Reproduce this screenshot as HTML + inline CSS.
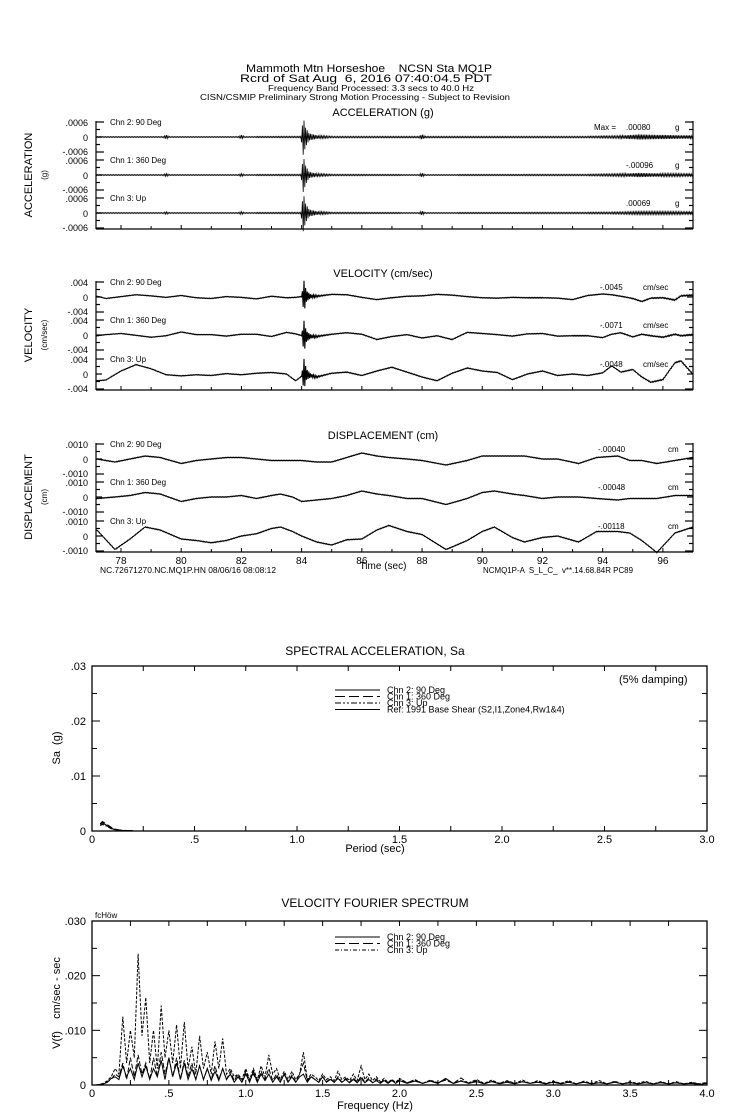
<!DOCTYPE html>
<html><head><meta charset="utf-8"><title>MQ1P strong motion record</title>
<style>
html,body{margin:0;padding:0;background:#fff;}
svg{display:block;font-family:"Liberation Sans",sans-serif;}
text{fill:#000;white-space:pre;}
</style></head>
<body>
<svg id="chart" width="739" height="1115" viewBox="0 0 739 1115" xmlns="http://www.w3.org/2000/svg" xml:space="preserve">
<rect width="739" height="1115" fill="#fff"/>
<g text-anchor="middle">
<text x="369" y="72" font-size="11" textLength="246" lengthAdjust="spacingAndGlyphs">Mammoth Mtn Horseshoe    NCSN Sta MQ1P</text>
<text x="366" y="82" font-size="11" textLength="252" lengthAdjust="spacingAndGlyphs">Rcrd of Sat Aug  6, 2016 07:40:04.5 PDT</text>
<text x="371" y="91" font-size="8" textLength="206" lengthAdjust="spacingAndGlyphs">Frequency Band Processed: 3.3 secs to 40.0 Hz</text>
<text x="355" y="100" font-size="8" textLength="310" lengthAdjust="spacingAndGlyphs">CISN/CSMIP Preliminary Strong Motion Processing - Subject to Revision</text>
</g>
<g id="ts"></g>
<g id="sa"></g>
<g id="ff"></g>
</svg>
<script>
// ---------- time-history data ----------
const channelNames = ["Chn 2: 90 Deg", "Chn 1: 360 Deg", "Chn 3: Up"];
const accPeaks = [".00080", "-.00096", ".00069"];
const velPeaks = ["-.0045", "-.0071", "-.0048"];
const dispPeaks = ["-.00040", "-.00048", "-.00118"];
const timeTicks = [78, 80, 82, 84, 86, 88, 90, 92, 94, 96];

// acceleration envelope (g) per channel
const accEnvT = [77.2, 79.4, 79.5, 79.6, 81.9, 82.0, 82.1, 83.98, 84.06, 84.12, 84.25, 84.5, 85.0, 87.9, 88.0, 88.1, 93.5, 94.5, 95.2, 96.0, 97.0];
const accEnvCh2 = [0.00002, 0.00002, 0.00008, 0.00002, 0.00002, 0.00008, 0.00002, 0.00003, 0.00078, 0.0004, 0.00014, 0.00007, 0.00003, 0.00003, 0.0001, 0.00003, 0.00003, 0.00005, 0.0001, 0.00008, 0.00006];
const accEnvCh1 = [0.00002, 0.00002, 0.00006, 0.00002, 0.00002, 0.00006, 0.00002, 0.00003, 0.00075, 0.0004, 0.00012, 0.00006, 0.00003, 0.00002, 0.00008, 0.00002, 0.00003, 0.00005, 0.00008, 0.00006, 0.00005];
const accEnvCh3 = [0.00002, 0.00002, 0.00005, 0.00002, 0.00002, 0.00006, 0.00002, 0.00003, 0.0008, 0.0004, 0.00014, 0.00007, 0.00003, 0.00002, 0.00008, 0.00002, 0.00003, 0.00004, 0.00006, 0.00006, 0.00005];

// velocity (cm/sec)
const velT = [77.2, 77.5, 78.0, 78.5, 79.0, 79.5, 80.0, 80.5, 81.0, 81.5, 82.0, 82.5, 83.0, 83.5, 83.8, 84.1, 84.5, 85.0, 85.5, 86.0, 86.5, 87.0, 87.5, 88.0, 88.5, 89.0, 89.5, 90.0, 90.5, 91.0, 91.5, 92.0, 92.5, 93.0, 93.5, 94.0, 94.3, 94.6, 95.0, 95.3, 95.6, 96.0, 96.4, 96.6, 97.0];
const velCh2 = [0.0002, -0.0004, 0.0001, 0.0006, 0.0003, -0.0001, 0.0004, -0.0002, -0.0004, 0.0001, -0.0001, -0.0005, 0.0002, -0.0002, -0.0001, 0.0002, 0.0002, 0.0007, 0.0006, -0.0001, -0.0007, -0.0002, 0.0002, 0.0003, 0.0007, 0.0005, 0.0001, -0.0002, -0.0003, -0.0001, -0.0002, -0.0002, -0.0003, -0.0007, 0.0004, 0.0008, 0.0006, 0.0002, -0.0004, -0.0012, -0.0003, -0.0002, -0.0008, 0.0003, 0.0005];
const velCh1 = [-0.0002, 0.0001, 0.0004, -0.0001, -0.0006, -0.0002, 0.0008, 0.0001, 0.0001, -0.0003, 0.0002, 0.0002, -0.0004, 0.0007, 0.0003, -0.0004, -0.0004, 0.0002, 0.0006, 0.0002, -0.0012, -0.0004, 0.0001, -0.0008, -0.0002, -0.0012, 0.0007, 0.0004, 0.0001, -0.0003, 0.0003, 0.0004, -0.0003, -0.0002, -0.0002, -0.0007, 0.0002, 0.0006, -0.0005, 0.0002, -0.0002, -0.0006, 0.0002, -0.0002, 0.0001];
const velCh3 = [-0.0018, -0.0016, 0.0008, 0.0025, 0.0014, -0.0002, -0.0005, -0.0002, -0.0004, 0.0001, -0.0002, 0.0002, 0.0004, 0.0, -0.0018, 0.0, -0.0008, 0.0002, 0.0005, -0.0004, 0.0008, 0.0018, 0.0005, -0.0008, -0.0018, 0.0002, 0.0016, 0.0008, 0.0004, -0.0015, 0.0, 0.0008, -0.0004, 0.0, -0.0004, 0.0003, 0.0022, 0.0005, 0.0012, -0.0008, -0.0022, -0.0015, 0.003, 0.0035, -0.0001];
const velNoiseT = [77.2, 84.0, 84.08, 84.15, 84.3, 84.6, 85.0, 94.5, 97.0];
const velNoise = [0.00006, 0.00008, 0.0042, 0.0015, 0.0005, 0.00015, 0.00008, 0.00008, 0.00015];

// displacement (cm)
const dispT = [77.2, 77.8, 78.3, 78.8, 79.3, 80.0, 80.5, 81.0, 81.5, 82.0, 82.5, 83.0, 83.3, 83.7, 84.0, 84.5, 85.0, 85.5, 86.0, 86.5, 86.9, 87.5, 88.0, 88.8, 89.5, 90.0, 90.4, 91.0, 91.4, 92.0, 92.5, 93.2, 93.8, 94.5, 94.9, 95.3, 95.8, 96.4, 97.0];
const dispCh2 = [0.0, -0.0002, 0.0, 0.0002, 0.0001, -0.0003, -0.0001, 0.0, 0.0001, 0.0001, 0.0, -0.0001, -0.0001, -0.0001, -0.0001, -0.0002, -0.0002, 0.0001, 0.0004, 0.0002, 0.0001, 0.0, -0.0001, -0.0004, -0.0001, 0.0002, 0.0002, 0.0002, 0.0002, 0.0, 0.0, -0.0003, 0.0001, 0.0002, -0.0001, -0.0001, -0.0003, -0.0001, 0.0001];
const dispCh1 = [-0.0001, 0.0, 0.0001, 0.0003, 0.0002, -0.0003, -0.0001, 0.0, 0.0, 0.0001, -0.0001, 0.0001, 0.0002, 0.0, -0.0003, -0.0002, -0.0001, 0.0001, 0.0004, 0.0002, 0.0001, -0.0001, -0.0001, -0.0005, -0.0001, 0.0003, 0.0004, 0.0002, 0.0001, -0.0001, 0.0, 0.0, -0.0001, -0.0002, -0.0001, -0.0001, -0.0001, 0.0001, 0.0001];
const dispCh3 = [0.0004, -0.0009, -0.0002, 0.0006, 0.0004, -0.0002, -0.0003, -0.00045, -0.0003, 0.0, 0.00015, 0.0005, 0.0006, 0.0003, 0.0, -0.0004, -0.0006, -0.00025, -0.0002, 0.0004, 0.0007, 0.0003, 0.0001, -0.0009, -0.0003, 0.0003, 0.0006, -0.0001, -0.0004, -0.0001, 0.0, -0.0004, 0.0003, 0.0003, 0.0002, -0.0003, -0.0011, 0.0002, 0.0006];

// ---------- spectral acceleration data ----------
const saPeriods = [0.04, 0.05, 0.06, 0.08, 0.1, 0.12, 0.15, 0.2];
const saCh2 = [0.0012, 0.0015, 0.0013, 0.0008, 0.0004, 0.0002, 0.0001, 0.00005];
const saCh1 = [0.0013, 0.0017, 0.0015, 0.001, 0.0005, 0.00025, 0.0001, 0.00005];
const saCh3 = [0.001, 0.0012, 0.0011, 0.0007, 0.0003, 0.00015, 0.00008, 0.00004];
const saYTicks = [".03", ".02", ".01", "0"];
const saXTicks = ["0", ".5", "1.0", "1.5", "2.0", "2.5", "3.0"];

// ---------- velocity Fourier spectrum (units of 0.001 cm/sec-sec) ----------
const ffCh3 = [0,0,0.1,0.3,0.8,1.5,3,2,12.5,4,10,5,24,9,16,4,10,3,14.5,5,10,4,11,3,11.5,3,7,2,9,3,6,2,8,3,8.5,2,3,1.5,2,1,3,1,3,1,3.5,1.5,5.5,2,3,1,2.5,1,2.5,1,2,6,1,2,1.5,0.8,2,1,1.5,0.8,2.5,1,1.5,0.8,2,0.8,3.5,1,2,0.8,1.5,0.6,1.2,0.5,1,0.5,1.2,
 0.4,1.0,0.3,0.9,0.4,1.1,0.3,0.8,0.4,1.0,0.3,0.9,0.3,0.8,0.3,0.9,0.3,0.8,0.3,0.7,0.3,0.8,0.2,0.7,0.3,0.8,0.2,0.7,0.2,0.6,0.3,0.7,0.2,0.6,0.2,0.6,0.2,0.5,0.2,0.5];
const ffCh2 = [0,0,0.1,0.2,0.5,1.2,1.5,1,3.5,1.5,3,1,4,1.5,3.5,1,3,1.5,4.5,1,5,1.5,4,1,4,1,3,1,3.5,1,3,0.8,2.5,0.8,3,1,2,0.5,1.5,0.5,2,0.5,2.5,0.5,2,0.8,2,0.5,1.5,0.5,2,0.5,1.5,0.5,1.5,2,0.5,1.5,1,0.5,1.5,0.5,1,0.5,1.2,0.5,1,0.4,1,0.4,1.2,0.4,1,0.4,0.8,0.3,0.8,0.3,0.8,0.3,0.8,
 0.3,0.7,0.3,0.7,0.3,1.2,0.3,0.7,0.3,0.6,0.2,0.6,0.2,0.5,0.2,0.6,0.3,0.5,0.2,0.5,0.2,0.5,0.2,0.5,0.2,0.4,0.2,0.5,0.2,0.4,0.2,0.4,0.2,0.4,0.2,0.4,0.2,0.3,0.1,0.3];
const ffCh1 = [0,0,0.1,0.3,0.6,1,2,1.5,4,1,5,1.5,5.5,2,4,1,5,1.5,6,2,5,1.5,5,1,4.5,1.5,4,1,3.5,1,3,1,3.5,1,3,1,2.5,0.8,2,0.6,2.5,0.8,2,0.6,2.5,1,3,0.8,2,0.6,2,0.6,1.8,0.6,2,4,0.8,1.6,1,0.5,1.5,0.6,1.2,0.5,1.5,0.5,1.2,0.5,1.3,0.5,1.6,0.5,1.3,0.4,1.1,0.4,1,0.4,0.9,0.4,1,
 0.4,0.9,0.3,0.8,0.4,0.9,0.3,1.3,0.3,0.8,0.3,0.7,0.3,0.7,0.3,0.6,0.3,0.7,0.2,0.6,0.3,0.6,0.2,0.6,0.2,0.5,0.2,0.6,0.2,0.5,0.2,0.5,0.2,0.5,0.2,0.4,0.2,0.4,0.2,0.4];
const ffYTicks = [".030", ".020", ".010", "0"];
const ffXTicks = ["0", ".5", "1.0", "1.5", "2.0", "2.5", "3.0", "3.5", "4.0"];

// ---------- helpers ----------
const NS = "http://www.w3.org/2000/svg";
function mk(parent, tag, attrs, txt) {
  const e = document.createElementNS(NS, tag);
  for (const k in attrs) e.setAttribute(k, attrs[k]);
  if (txt !== undefined) e.textContent = txt;
  parent.appendChild(e);
  return e;
}
function interp(xs, ys, x) {
  if (x <= xs[0]) return ys[0];
  for (let i = 1; i < xs.length; i++) {
    if (x <= xs[i]) { const f = (x - xs[i-1]) / (xs[i] - xs[i-1]); return ys[i-1] + f * (ys[i] - ys[i-1]); }
  }
  return ys[ys.length - 1];
}
function freqOf(i) { return i <= 80 ? i * 0.025 : 2.0 + (i - 80) * 0.05; }

// ---------- time histories ----------
const tMin = 77.17, tMax = 97.0, L = 96, R = 693;
function xT(t) { return L + (t - tMin) / (tMax - tMin) * (R - L); }
const ts = document.getElementById("ts");

const panels = [
  {name: "acceleration", title: "ACCELERATION (g)", titleY: 116, zeros: [137, 175, 213], scale: 15 / 0.0006, lim: ".0006", axis: "ACCELERATION", unit: "(g)", peaks: accPeaks, unitTxt: "g", unitX: 675, peakX: 626},
  {name: "velocity", title: "VELOCITY (cm/sec)", titleY: 277, zeros: [297, 335, 374], scale: 15 / 0.004, lim: ".004", axis: "VELOCITY", unit: "(cm/sec)", peaks: velPeaks, unitTxt: "cm/sec", unitX: 643, peakX: 600},
  {name: "displacement", title: "DISPLACEMENT (cm)", titleY: 439, zeros: [459, 497, 536], scale: 15 / 0.001, lim: ".0010", axis: "DISPLACEMENT", unit: "(cm)", peaks: dispPeaks, unitTxt: "cm", unitX: 668, peakX: 598}
];
const velSeries = [velCh2, velCh1, velCh3];
const dispSeries = [dispCh2, dispCh1, dispCh3];

panels.forEach((p, pi) => {
  const g = mk(ts, "g", {});
  
  
  const title = mk(g, "text", {x: 383, y: p.titleY, "font-size": 11, "text-anchor": "middle"}, p.title);
  
  
  const midY = p.zeros[1];
  const ax = mk(g, "text", {x: 32, y: midY, "font-size": 11, "text-anchor": "middle", transform: `rotate(-90 32 ${midY})`}, p.axis);
  
  
  const un = mk(g, "text", {x: 47, y: midY, "font-size": 8, "text-anchor": "middle", transform: `rotate(-90 47 ${midY})`}, p.unit);
  
  
  const top = p.zeros[0] - 16, bot = p.zeros[2] + 16;
  mk(g, "line", {x1: L, y1: top, x2: L, y2: bot, stroke: "#000", "stroke-width": 1.2});
  mk(g, "line", {x1: R, y1: top, x2: R, y2: bot, stroke: "#000", "stroke-width": 1.2});
  mk(g, "line", {x1: L, y1: bot, x2: R, y2: bot, stroke: "#000", "stroke-width": 1.2});
  for (let t = 78; t <= 96; t++) {
    mk(g, "line", {x1: xT(t), y1: bot, x2: xT(t), y2: bot - (t % 2 === 0 ? 4 : 3), stroke: "#000", "stroke-width": 1});
  }
  p.zeros.forEach((z, ci) => {
    const lv = [[-15, 8], [-7.5, 4], [0, 6], [7.5, 4], [15, 8]];
    lv.forEach(([d, len]) => {
      mk(g, "line", {x1: L, y1: z + d, x2: L + len, y2: z + d, stroke: "#000", "stroke-width": 1.2});
      mk(g, "line", {x1: R, y1: z + d, x2: R - len, y2: z + d, stroke: "#000", "stroke-width": 1.2});
    });
    mk(g, "text", {x: 88, y: z - 11, "font-size": 9, "text-anchor": "end"}, p.lim);
    mk(g, "text", {x: 88, y: z + 4, "font-size": 9, "text-anchor": "end"}, "0");
    mk(g, "text", {x: 88, y: z + 18, "font-size": 9, "text-anchor": "end"}, "-" + p.lim);
    const cl = mk(g, "text", {x: 110, y: z - 12, "font-size": 8}, channelNames[ci]);
    
    
    if (pi === 0 && ci === 0) mk(g, "text", {x: 594, y: z - 7, "font-size": 8}, "Max =");
    const pk = mk(g, "text", {x: p.peakX, y: z - 7, "font-size": 8}, p.peaks[ci]);
    
    
    mk(g, "text", {x: p.unitX, y: z - 7, "font-size": 8}, p.unitTxt);

    let d = "";
    if (pi === 0) {
      const env = [accEnvCh2, accEnvCh1, accEnvCh3][ci];
      let s = 1;
      for (let x = L; x <= R; x += 0.8) {
        const t = tMin + (x - L) / (R - L) * (tMax - tMin);
        const a = interp(accEnvT, env, t) * p.scale;
        d += (d ? "L" : "M") + x.toFixed(1) + " " + (z - s * Math.max(a, 0.4)).toFixed(1);
        s = -s;
      }
    } else {
      const T = pi === 1 ? velT : dispT;
      const V = pi === 1 ? velSeries[ci] : dispSeries[ci];
      let s = 1;
      for (let x = L; x <= R; x += 0.8) {
        const t = tMin + (x - L) / (R - L) * (tMax - tMin);
        let v = interp(T, V, t);
        let n = pi === 1 ? interp(velNoiseT, velNoise, t) : 0.00002;
        d += (d ? "L" : "M") + x.toFixed(1) + " " + (z - (v + s * n) * p.scale).toFixed(1);
        s = -s;
      }
    }
    const tr = mk(g, "path", {d: d, fill: "none", stroke: "#000", "stroke-width": pi === 0 ? 0.8 : 1.1});
    
    
  });
  if (pi === 2) {
    timeTicks.forEach(t => {
      const tl = mk(g, "text", {x: xT(t), y: bot + 12, "font-size": 10, "text-anchor": "middle"}, String(t));
      
      
    });
    const xt = mk(g, "text", {x: 383, y: bot + 17, "font-size": 10, "text-anchor": "middle"}, "Time (sec)");
    
    
    const f1 = mk(g, "text", {x: 100, y: bot + 21, "font-size": 8, textLength: 176, lengthAdjust: "spacingAndGlyphs"}, "NC.72671270.NC.MQ1P.HN 08/06/16 08:08:12");
    
    
    const f2 = mk(g, "text", {x: 483, y: bot + 21, "font-size": 8, textLength: 150, lengthAdjust: "spacingAndGlyphs"}, "NCMQ1P-A  S_L_C_  v**.14.68.84R PC89");
    
    
  }
});

// ---------- spectrum frames ----------
function frame(parent, name, top, bot, yTicks, xTicks) {
  const BL = 92, BR = 707;
  mk(parent, "rect", {x: BL, y: top, width: BR - BL, height: bot - top, fill: "none", stroke: "#000", "stroke-width": 1.3});
  const ny = yTicks.length - 1;
  for (let i = 0; i <= ny * 2; i++) {
    const y = top + i * (bot - top) / (ny * 2);
    const len = i % 2 === 0 ? 8 : 5;
    mk(parent, "line", {x1: BL, y1: y, x2: BL + len, y2: y, stroke: "#000"});
    mk(parent, "line", {x1: BR, y1: y, x2: BR - len, y2: y, stroke: "#000"});
  }
  yTicks.forEach((lab, i) => {
    const y = top + i * (bot - top) / ny;
    const t = mk(parent, "text", {x: 86, y: y + 4, "font-size": 11, "text-anchor": "end"}, lab);
    
    
  });
  const nx = xTicks.length - 1;
  for (let i = 0; i <= nx * 2; i++) {
    const x = BL + i * (BR - BL) / (nx * 2);
    mk(parent, "line", {x1: x, y1: bot, x2: x, y2: bot - 5, stroke: "#000"});
    mk(parent, "line", {x1: x, y1: top, x2: x, y2: top + 5, stroke: "#000"});
  }
  xTicks.forEach((lab, i) => {
    const x = BL + i * (BR - BL) / nx;
    const t = mk(parent, "text", {x: x, y: bot + 12, "font-size": 11, "text-anchor": "middle"}, lab);
    
    
  });
}
function legend(parent, y0, entries) {
  entries.forEach((e, i) => {
    const y = y0 + i * 6.5;
    const ln = mk(parent, "line", {x1: 335, y1: y - 3, x2: 380, y2: y - 3, stroke: "#000", "stroke-width": 1.1, "stroke-dasharray": e[1]});
    
    
    const t = mk(parent, "text", {x: 387, y: y, "font-size": 9}, e[0]);
    
    
  });
}

// Spectral acceleration
const sa = document.getElementById("sa");


const saTop = 666, saBot = 831;
function saX(p) { return 92 + p / 3.0 * 615; }
function saY(v) { return saBot - v / 0.03 * (saBot - saTop); }
let st = mk(sa, "text", {x: 375, y: 655, "font-size": 12, "text-anchor": "middle"}, "SPECTRAL ACCELERATION, Sa");


frame(sa, "sa", saTop, saBot, saYTicks, saXTicks);
let sy = mk(sa, "text", {x: 60, y: 748, "font-size": 11, "text-anchor": "middle", transform: "rotate(-90 60 748)"}, "Sa  (g)");


let sx = mk(sa, "text", {x: 375, y: 852, "font-size": 11, "text-anchor": "middle"}, "Period (sec)");


let sd = mk(sa, "text", {x: 619, y: 683, "font-size": 11}, "(5% damping)");


legend(sa, 693, [["Chn 2: 90 Deg", "none"], ["Chn 1: 360 Deg", "10 4"], ["Chn 3: Up", "6 2 2 2 2 2"], ["Ref: 1991 Base Shear (S2,I1,Zone4,Rw1&4)", "none"]]);
[[saCh2, "none"], [saCh1, "6 3"], [saCh3, "4 2 1 2"]].forEach(([ser, dash]) => {
  const d = ser.map((v, i) => (i ? "L" : "M") + saX(saPeriods[i]).toFixed(1) + " " + saY(v).toFixed(1)).join("");
  const pth = mk(sa, "path", {d: d, fill: "none", stroke: "#000", "stroke-width": 1.2, "stroke-dasharray": dash});
  
  
});

// Fourier spectrum
const ff = document.getElementById("ff");


const ffTop = 921, ffBot = 1085;
function ffX(f) { return 92 + f / 4.0 * 615; }
function ffY(v) { return ffBot - v / 30 * (ffBot - ffTop); }
let ft = mk(ff, "text", {x: 375, y: 907, "font-size": 12, "text-anchor": "middle"}, "VELOCITY FOURIER SPECTRUM");


let fc = mk(ff, "text", {x: 95, y: 918, "font-size": 8}, "fcHöw");


frame(ff, "fourier", ffTop, ffBot, ffYTicks, ffXTicks);
let fy = mk(ff, "text", {x: 60, y: 1003, "font-size": 11, "text-anchor": "middle", transform: "rotate(-90 60 1003)"}, "V(f)    cm/sec - sec");


let fx = mk(ff, "text", {x: 375, y: 1109, "font-size": 11, "text-anchor": "middle"}, "Frequency (Hz)");


legend(ff, 940, [["Chn 2: 90 Deg", "none"], ["Chn 1: 360 Deg", "10 4"], ["Chn 3: Up", "4 2 1 2"]]);
[[ffCh2, "none"], [ffCh1, "5 2"], [ffCh3, "3 1.5"]].forEach(([ser, dash]) => {
  const d = ser.map((v, i) => (i ? "L" : "M") + ffX(freqOf(i)).toFixed(1) + " " + ffY(v).toFixed(1)).join("");
  const pth = mk(ff, "path", {d: d, fill: "none", stroke: "#000", "stroke-width": 1, "stroke-dasharray": dash});
  
  
});
</script>
</body></html>
